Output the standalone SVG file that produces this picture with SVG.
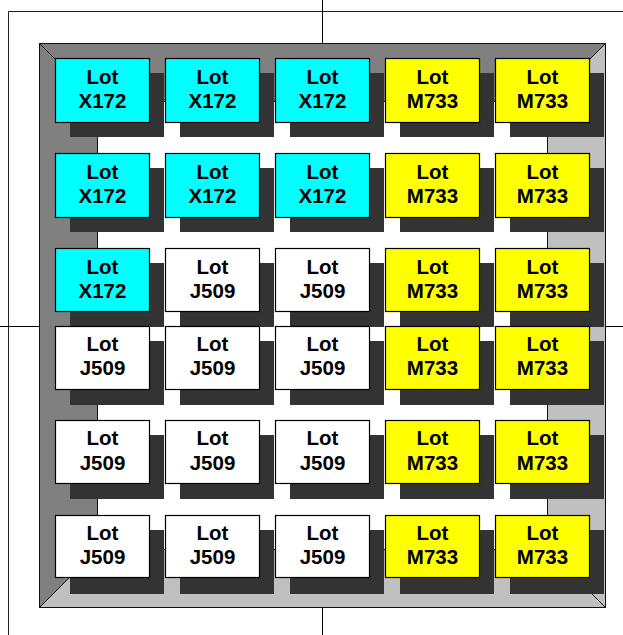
<svg xmlns="http://www.w3.org/2000/svg" width="623" height="635" viewBox="0 0 623 635">
<style>
.frame{fill:none;stroke:#222;stroke-width:1}
.guide{stroke:#000;stroke-width:1}
.bev{stroke:#111;stroke-width:1;stroke-linejoin:miter}
.dk{fill:#808080}
.lt{fill:#c0c0c0}
.shadow{fill:#333333}
.box{stroke:#000;stroke-width:1.2}
.c{fill:#00ffff}
.y{fill:#ffff00}
.w{fill:#ffffff}
.t{font-family:"Liberation Sans",Arial,sans-serif;font-weight:bold;font-size:20.5px;fill:#000;text-anchor:middle}
</style>
<rect width="623" height="635" fill="#fff"/>
<g id="background">
<path class="frame" d="M8.5,635 V11.5 H623"/>
<line class="guide" x1="322.5" y1="0" x2="322.5" y2="635"/>
<line class="guide" x1="0" y1="326.5" x2="623" y2="326.5"/>
</g>
<g id="tray">
<polygon class="bev dk" points="39.5,43.5 605.5,43.5 547.5,101.5 97.5,101.5"/>
<polygon class="bev dk" points="39.5,43.5 97.5,101.5 97.5,549.5 39.5,607.5"/>
<polygon class="bev lt" points="605.5,43.5 605.5,607.5 547.5,549.5 547.5,101.5"/>
<polygon class="bev lt" points="39.5,607.5 97.5,549.5 547.5,549.5 605.5,607.5"/>
<rect x="97.5" y="101.5" width="450" height="448" fill="#fff" stroke="#111" stroke-width="1"/>
</g>
<g id="connectors"></g>
<g id="n11"><rect class="shadow" x="70" y="73" width="94" height="64"/><rect class="box c" x="55.5" y="58.5" width="94" height="64"/><text class="t" x="102.5" y="83.5">Lot</text><text class="t" x="102.5" y="108">X172</text></g>
<g id="n12"><rect class="shadow" x="180" y="73" width="94" height="64"/><rect class="box c" x="165.5" y="58.5" width="94" height="64"/><text class="t" x="212.5" y="83.5">Lot</text><text class="t" x="212.5" y="108">X172</text></g>
<g id="n13"><rect class="shadow" x="290" y="73" width="94" height="64"/><rect class="box c" x="275.5" y="58.5" width="94" height="64"/><text class="t" x="322.5" y="83.5">Lot</text><text class="t" x="322.5" y="108">X172</text></g>
<g id="n14"><rect class="shadow" x="400" y="73" width="94" height="64"/><rect class="box y" x="385.5" y="58.5" width="94" height="64"/><text class="t" x="432.5" y="83.5">Lot</text><text class="t" x="432.5" y="108">M733</text></g>
<g id="n15"><rect class="shadow" x="510" y="73" width="94" height="64"/><rect class="box y" x="495.5" y="58.5" width="94" height="64"/><text class="t" x="542.5" y="83.5">Lot</text><text class="t" x="542.5" y="108">M733</text></g>
<g id="n21"><rect class="shadow" x="70" y="168" width="94" height="64"/><rect class="box c" x="55.5" y="153.5" width="94" height="64"/><text class="t" x="102.5" y="178.5">Lot</text><text class="t" x="102.5" y="203">X172</text></g>
<g id="n22"><rect class="shadow" x="180" y="168" width="94" height="64"/><rect class="box c" x="165.5" y="153.5" width="94" height="64"/><text class="t" x="212.5" y="178.5">Lot</text><text class="t" x="212.5" y="203">X172</text></g>
<g id="n23"><rect class="shadow" x="290" y="168" width="94" height="64"/><rect class="box c" x="275.5" y="153.5" width="94" height="64"/><text class="t" x="322.5" y="178.5">Lot</text><text class="t" x="322.5" y="203">X172</text></g>
<g id="n24"><rect class="shadow" x="400" y="168" width="94" height="64"/><rect class="box y" x="385.5" y="153.5" width="94" height="64"/><text class="t" x="432.5" y="178.5">Lot</text><text class="t" x="432.5" y="203">M733</text></g>
<g id="n25"><rect class="shadow" x="510" y="168" width="94" height="64"/><rect class="box y" x="495.5" y="153.5" width="94" height="64"/><text class="t" x="542.5" y="178.5">Lot</text><text class="t" x="542.5" y="203">M733</text></g>
<g id="n31"><rect class="shadow" x="70" y="263" width="94" height="64"/><rect class="box c" x="55.5" y="248.5" width="94" height="63"/><text class="t" x="102.5" y="273.5">Lot</text><text class="t" x="102.5" y="297.5">X172</text></g>
<g id="n32"><rect class="shadow" x="180" y="263" width="94" height="64"/><rect class="box w" x="165.5" y="248.5" width="94" height="63"/><text class="t" x="212.5" y="273.5">Lot</text><text class="t" x="212.5" y="297.5">J509</text></g>
<g id="n33"><rect class="shadow" x="290" y="263" width="94" height="64"/><rect class="box w" x="275.5" y="248.5" width="94" height="63"/><text class="t" x="322.5" y="273.5">Lot</text><text class="t" x="322.5" y="297.5">J509</text></g>
<g id="n34"><rect class="shadow" x="400" y="263" width="94" height="64"/><rect class="box y" x="385.5" y="248.5" width="94" height="63"/><text class="t" x="432.5" y="273.5">Lot</text><text class="t" x="432.5" y="297.5">M733</text></g>
<g id="n35"><rect class="shadow" x="510" y="263" width="94" height="64"/><rect class="box y" x="495.5" y="248.5" width="94" height="63"/><text class="t" x="542.5" y="273.5">Lot</text><text class="t" x="542.5" y="297.5">M733</text></g>
<g id="n41"><rect class="shadow" x="70" y="341" width="94" height="64"/><rect class="box w" x="55.5" y="326.5" width="94" height="63"/><text class="t" x="102.5" y="350.5">Lot</text><text class="t" x="102.5" y="375">J509</text></g>
<g id="n42"><rect class="shadow" x="180" y="341" width="94" height="64"/><rect class="box w" x="165.5" y="326.5" width="94" height="63"/><text class="t" x="212.5" y="350.5">Lot</text><text class="t" x="212.5" y="375">J509</text></g>
<g id="n43"><rect class="shadow" x="290" y="341" width="94" height="64"/><rect class="box w" x="275.5" y="326.5" width="94" height="63"/><text class="t" x="322.5" y="350.5">Lot</text><text class="t" x="322.5" y="375">J509</text></g>
<g id="n44"><rect class="shadow" x="400" y="341" width="94" height="64"/><rect class="box y" x="385.5" y="326.5" width="94" height="63"/><text class="t" x="432.5" y="350.5">Lot</text><text class="t" x="432.5" y="375">M733</text></g>
<g id="n45"><rect class="shadow" x="510" y="341" width="94" height="64"/><rect class="box y" x="495.5" y="326.5" width="94" height="63"/><text class="t" x="542.5" y="350.5">Lot</text><text class="t" x="542.5" y="375">M733</text></g>
<g id="n51"><rect class="shadow" x="70" y="435" width="94" height="64"/><rect class="box w" x="55.5" y="420.5" width="94" height="63"/><text class="t" x="102.5" y="445">Lot</text><text class="t" x="102.5" y="469.5">J509</text></g>
<g id="n52"><rect class="shadow" x="180" y="435" width="94" height="64"/><rect class="box w" x="165.5" y="420.5" width="94" height="63"/><text class="t" x="212.5" y="445">Lot</text><text class="t" x="212.5" y="469.5">J509</text></g>
<g id="n53"><rect class="shadow" x="290" y="435" width="94" height="64"/><rect class="box w" x="275.5" y="420.5" width="94" height="63"/><text class="t" x="322.5" y="445">Lot</text><text class="t" x="322.5" y="469.5">J509</text></g>
<g id="n54"><rect class="shadow" x="400" y="435" width="94" height="64"/><rect class="box y" x="385.5" y="420.5" width="94" height="63"/><text class="t" x="432.5" y="445">Lot</text><text class="t" x="432.5" y="469.5">M733</text></g>
<g id="n55"><rect class="shadow" x="510" y="435" width="94" height="64"/><rect class="box y" x="495.5" y="420.5" width="94" height="63"/><text class="t" x="542.5" y="445">Lot</text><text class="t" x="542.5" y="469.5">M733</text></g>
<g id="n61"><rect class="shadow" x="70" y="530" width="94" height="64"/><rect class="box w" x="55.5" y="515.5" width="94" height="62"/><text class="t" x="102.5" y="539.5">Lot</text><text class="t" x="102.5" y="564">J509</text></g>
<g id="n62"><rect class="shadow" x="180" y="530" width="94" height="64"/><rect class="box w" x="165.5" y="515.5" width="94" height="62"/><text class="t" x="212.5" y="539.5">Lot</text><text class="t" x="212.5" y="564">J509</text></g>
<g id="n63"><rect class="shadow" x="290" y="530" width="94" height="64"/><rect class="box w" x="275.5" y="515.5" width="94" height="62"/><text class="t" x="322.5" y="539.5">Lot</text><text class="t" x="322.5" y="564">J509</text></g>
<g id="n64"><rect class="shadow" x="400" y="530" width="94" height="64"/><rect class="box y" x="385.5" y="515.5" width="94" height="62"/><text class="t" x="432.5" y="539.5">Lot</text><text class="t" x="432.5" y="564">M733</text></g>
<g id="n65"><rect class="shadow" x="510" y="530" width="94" height="64"/><rect class="box y" x="495.5" y="515.5" width="94" height="62"/><text class="t" x="542.5" y="539.5">Lot</text><text class="t" x="542.5" y="564">M733</text></g>
</svg>
